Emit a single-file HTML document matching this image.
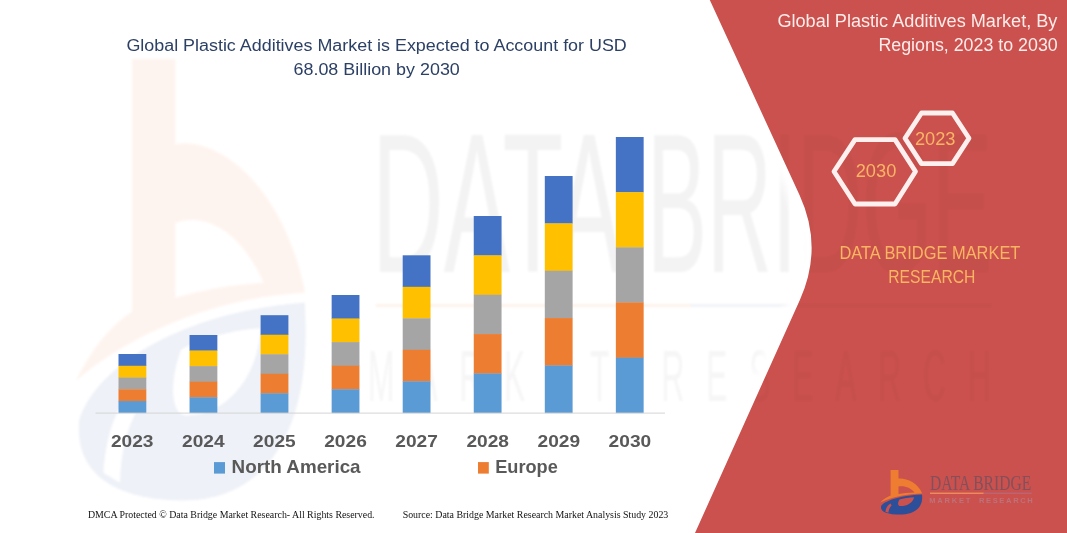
<!DOCTYPE html>
<html>
<head>
<meta charset="utf-8">
<title>Global Plastic Additives Market</title>
<style>
  html, body { margin: 0; padding: 0; background: #ffffff; }
  body { width: 1067px; height: 533px; overflow: hidden; font-family: "Liberation Sans", sans-serif; }
  svg { display: block; position: absolute; left: 0; top: 0; }
  text { font-family: "Liberation Sans", sans-serif; }
  .serif { font-family: "Liberation Serif", serif; }
</style>
</head>
<body>
<svg width="1067" height="533" viewBox="0 0 1067 533">
  <defs>
    <filter id="soft" x="-10%" y="-10%" width="120%" height="120%"><feGaussianBlur stdDeviation="1.2"/></filter>
    <filter id="soft2" x="-10%" y="-10%" width="120%" height="120%"><feGaussianBlur stdDeviation="0.6"/></filter>
    <path id="logo-o" fill-rule="evenodd" d="M890.6,470 L898.5,470 L898.5,478.6 C906,477.8 917.5,482.5 921.7,492.6 C921.9,493 922,493.3 922,493.6 C908,494 892,497 880.4,502.5 C883.5,499 887,496.8 890.6,495.5 Z
             M898.5,486.6 C904,485.4 910.5,487.5 914.5,492.6 C908,492.8 903,493.4 898.5,494.1 Z"/>
    <path id="logo-b" fill-rule="evenodd" d="M881,506.5 C884,501 900,495.5 922,494.6 C923.6,507.5 915,514.6 900,514.6 C889,514.6 880,512.4 881,506.5 Z
             M899.5,499.4 C903,498.2 909,497.4 914,497.2 C913.4,502.4 907.5,506 900.5,506 C897.6,506 897.4,502.6 899.5,499.4 Z"/>
    <path id="logo-n" d="M885.4,511.8 C886,507.4 888,505 890.6,503.6 L891.6,505.4 C889.6,507.4 888.6,509.6 888.4,512.8 Z"/>
    <clipPath id="redclip"><path d="M709.8,0 L799.5,195 Q823.6,247.3 799.85,300 L695,533 L1067,533 L1067,0 Z"/></clipPath>
    <filter id="glow" x="-30%" y="-10%" width="160%" height="120%"><feGaussianBlur stdDeviation="5"/></filter>
  </defs>
  <rect x="0" y="0" width="1067" height="533" fill="#ffffff"/>

  <!-- faint watermark logo (left) -->
  <g id="wm-logo" filter="url(#soft)">
    <g transform="translate(132 59) scale(5.5 9.9) translate(-890.6 -470)">
      <use href="#logo-o" fill="#fef4ef"/>
      <use href="#logo-b" fill="#eef1f7"/>
      <use href="#logo-n" fill="#ffffff"/>
    </g>
  </g>

  <!-- faint watermark text -->
  <g id="wm-text" fill="#f3f3f3" filter="url(#soft)">
    <text x="372" y="271.5" font-size="198" textLength="250" lengthAdjust="spacingAndGlyphs">DATA</text><text x="647" y="271.5" font-size="198" textLength="345" lengthAdjust="spacingAndGlyphs">BRIDGE</text>
    <rect x="376" y="304" width="315" height="3" fill="#fdf3ea"/>
    <rect x="691" y="304" width="300" height="3" fill="#f1f3f7"/>
    <text x="368" y="401.5" font-size="72" textLength="1415" lengthAdjust="spacing" transform="translate(368 0) scale(0.44 1) translate(-368 0)" fill="#f6f6f7">MARKET RESEARCH</text>
  </g>

  <!-- chart title -->
  <g fill="#2c4066" font-size="17.3">
    <text x="126.4" y="51.2" textLength="500.4" lengthAdjust="spacingAndGlyphs">Global Plastic Additives Market is Expected to Account for USD</text>
    <text x="293.5" y="74.8" textLength="166.3" lengthAdjust="spacingAndGlyphs">68.08 Billion by 2030</text>
  </g>

  <!-- bars -->
  <g id="bars">
    <!-- 2023 -->
    <rect x="118.50" y="354.00" width="27.8" height="12.06" fill="#4472c4"/>
    <rect x="118.50" y="365.76" width="27.8" height="12.06" fill="#ffc000"/>
    <rect x="118.50" y="377.52" width="27.8" height="12.06" fill="#a5a5a5"/>
    <rect x="118.50" y="389.28" width="27.8" height="12.06" fill="#ed7d31"/>
    <rect x="118.50" y="401.04" width="27.8" height="12.06" fill="#5b9bd5"/>
    <!-- 2024 -->
    <rect x="189.55" y="335.00" width="27.8" height="15.86" fill="#4472c4"/>
    <rect x="189.55" y="350.56" width="27.8" height="15.86" fill="#ffc000"/>
    <rect x="189.55" y="366.12" width="27.8" height="15.86" fill="#a5a5a5"/>
    <rect x="189.55" y="381.68" width="27.8" height="15.86" fill="#ed7d31"/>
    <rect x="189.55" y="397.24" width="27.8" height="15.86" fill="#5b9bd5"/>
    <!-- 2025 -->
    <rect x="260.60" y="315.20" width="27.8" height="19.82" fill="#4472c4"/>
    <rect x="260.60" y="334.72" width="27.8" height="19.82" fill="#ffc000"/>
    <rect x="260.60" y="354.24" width="27.8" height="19.82" fill="#a5a5a5"/>
    <rect x="260.60" y="373.76" width="27.8" height="19.82" fill="#ed7d31"/>
    <rect x="260.60" y="393.28" width="27.8" height="19.82" fill="#5b9bd5"/>
    <!-- 2026 -->
    <rect x="331.65" y="295.00" width="27.8" height="23.86" fill="#4472c4"/>
    <rect x="331.65" y="318.56" width="27.8" height="23.86" fill="#ffc000"/>
    <rect x="331.65" y="342.12" width="27.8" height="23.86" fill="#a5a5a5"/>
    <rect x="331.65" y="365.68" width="27.8" height="23.86" fill="#ed7d31"/>
    <rect x="331.65" y="389.24" width="27.8" height="23.86" fill="#5b9bd5"/>
    <!-- 2027 -->
    <rect x="402.70" y="255.30" width="27.8" height="31.80" fill="#4472c4"/>
    <rect x="402.70" y="286.80" width="27.8" height="31.80" fill="#ffc000"/>
    <rect x="402.70" y="318.30" width="27.8" height="31.80" fill="#a5a5a5"/>
    <rect x="402.70" y="349.80" width="27.8" height="31.80" fill="#ed7d31"/>
    <rect x="402.70" y="381.30" width="27.8" height="31.80" fill="#5b9bd5"/>
    <!-- 2028 -->
    <rect x="473.75" y="216.00" width="27.8" height="39.66" fill="#4472c4"/>
    <rect x="473.75" y="255.36" width="27.8" height="39.66" fill="#ffc000"/>
    <rect x="473.75" y="294.72" width="27.8" height="39.66" fill="#a5a5a5"/>
    <rect x="473.75" y="334.08" width="27.8" height="39.66" fill="#ed7d31"/>
    <rect x="473.75" y="373.44" width="27.8" height="39.66" fill="#5b9bd5"/>
    <!-- 2029 -->
    <rect x="544.80" y="176.00" width="27.8" height="47.66" fill="#4472c4"/>
    <rect x="544.80" y="223.36" width="27.8" height="47.66" fill="#ffc000"/>
    <rect x="544.80" y="270.72" width="27.8" height="47.66" fill="#a5a5a5"/>
    <rect x="544.80" y="318.08" width="27.8" height="47.66" fill="#ed7d31"/>
    <rect x="544.80" y="365.44" width="27.8" height="47.66" fill="#5b9bd5"/>
    <!-- 2030 -->
    <rect x="615.85" y="137.00" width="27.8" height="55.46" fill="#4472c4"/>
    <rect x="615.85" y="192.16" width="27.8" height="55.46" fill="#ffc000"/>
    <rect x="615.85" y="247.32" width="27.8" height="55.46" fill="#a5a5a5"/>
    <rect x="615.85" y="302.48" width="27.8" height="55.46" fill="#ed7d31"/>
    <rect x="615.85" y="357.64" width="27.8" height="55.46" fill="#5b9bd5"/>
  </g>
  <!-- axis line -->
  <rect x="95.5" y="412.6" width="569.5" height="1" fill="#d4d4d4"/>

  <!-- year labels -->
  <g fill="#595959" font-size="16.8" font-weight="bold" text-anchor="middle">
    <text x="132.2" y="446.7" textLength="42.6" lengthAdjust="spacingAndGlyphs">2023</text>
    <text x="203.3" y="446.7" textLength="42.6" lengthAdjust="spacingAndGlyphs">2024</text>
    <text x="274.4" y="446.7" textLength="42.6" lengthAdjust="spacingAndGlyphs">2025</text>
    <text x="345.5" y="446.7" textLength="42.6" lengthAdjust="spacingAndGlyphs">2026</text>
    <text x="416.6" y="446.7" textLength="42.6" lengthAdjust="spacingAndGlyphs">2027</text>
    <text x="487.7" y="446.7" textLength="42.6" lengthAdjust="spacingAndGlyphs">2028</text>
    <text x="558.8" y="446.7" textLength="42.6" lengthAdjust="spacingAndGlyphs">2029</text>
    <text x="629.9" y="446.7" textLength="42.6" lengthAdjust="spacingAndGlyphs">2030</text>
  </g>

  <!-- legend -->
  <rect x="214" y="462.1" width="11" height="11.5" fill="#5b9bd5"/>
  <rect x="478" y="462.1" width="10.8" height="11.5" fill="#ed7d31"/>
  <g fill="#595959" font-size="17.8" font-weight="bold">
    <text x="231.6" y="472.5" textLength="129" lengthAdjust="spacingAndGlyphs">North America</text>
    <text x="495.2" y="472.5" textLength="62.6" lengthAdjust="spacingAndGlyphs">Europe</text>
  </g>

  <!-- footer -->
  <g class="serif" fill="#111111" font-size="9.5">
    <text class="serif" x="87.9" y="518" textLength="286.7" lengthAdjust="spacingAndGlyphs">DMCA Protected © Data Bridge Market Research-  All Rights Reserved.</text>
    <text class="serif" x="402.7" y="518" textLength="265.6" lengthAdjust="spacingAndGlyphs">Source: Data Bridge Market Research  Market Analysis Study 2023</text>
  </g>

  <!-- red panel -->
  <path d="M709.8,0 L799.5,195 Q823.6,247.3 799.85,300 L695,533" fill="none" stroke="#ffffff" stroke-width="22" filter="url(#glow)"/>
  <path d="M709.8,0 L799.5,195 Q823.6,247.3 799.85,300 L695,533 L1067,533 L1067,0 Z" fill="#ca514d"/>

  <!-- faint watermark over red panel -->
  <g clip-path="url(#redclip)" fill="#000000" fill-opacity="0.024" filter="url(#soft)">
    <text x="372" y="271.5" font-size="198" textLength="250" lengthAdjust="spacingAndGlyphs">DATA</text><text x="647" y="271.5" font-size="198" textLength="345" lengthAdjust="spacingAndGlyphs">BRIDGE</text>
    <rect x="691" y="304" width="300" height="3" fill-opacity="0.02"/>
    <text x="368" y="401.5" font-size="72" textLength="1415" lengthAdjust="spacing" transform="translate(368 0) scale(0.44 1) translate(-368 0)" fill-opacity="0.02">MARKET RESEARCH</text>
  </g>

  <!-- red panel title -->
  <g fill="#fdecea" font-size="18">
    <text x="777.4" y="27.3" textLength="280" lengthAdjust="spacingAndGlyphs">Global Plastic Additives Market, By</text>
    <text x="878.4" y="51.2" textLength="179.4" lengthAdjust="spacingAndGlyphs">Regions, 2023 to 2030</text>
  </g>

  <!-- hexagons -->
  <g fill="none" stroke="#fdf0ee" stroke-width="4.8" stroke-linejoin="round">
    <polygon points="834,171.5 855,139.6 895,139.6 915.5,171.5 895,204 855,204"/>
    <polygon points="905,138.3 921.5,113 952.5,113 969,138.3 952.5,163.6 921.5,163.6"/>
  </g>
  <g fill="#fbb465" font-size="17.7" text-anchor="middle">
    <text x="876" y="176.5" textLength="40.6" lengthAdjust="spacingAndGlyphs">2030</text>
    <text x="935.2" y="144.7" textLength="40.6" lengthAdjust="spacingAndGlyphs">2023</text>
  </g>

  <!-- DBMR orange text -->
  <g fill="#fbb562" font-size="17.5">
    <text x="839.4" y="258.7" textLength="181" lengthAdjust="spacingAndGlyphs">DATA BRIDGE MARKET</text>
    <text x="888.2" y="283" textLength="87.2" lengthAdjust="spacingAndGlyphs">RESEARCH</text>
  </g>

  <!-- logo bottom right -->
  <g id="logo">
    <use href="#logo-o" fill="#ee7d31"/>
    <use href="#logo-b" fill="#2d4f99"/>
    <use href="#logo-n" fill="#ca514d"/>
    <text class="serif" x="929.9" y="489.9" font-size="21.2" fill="#82505c" textLength="101.3" lengthAdjust="spacingAndGlyphs">DATA BRIDGE</text>
    <rect x="930" y="492.6" width="53.7" height="1.3" fill="#f0935f"/>
    <rect x="983.7" y="492.6" width="48" height="1.3" fill="#b6687a"/>
    <g fill="#bf7179" font-size="7.6" font-weight="bold">
      <text x="929.3" y="502.9" textLength="41" lengthAdjust="spacing">MARKET</text>
      <text x="978.9" y="502.9" textLength="53.9" lengthAdjust="spacing">RESEARCH</text>
    </g>
  </g>
</svg>
</body>
</html>
